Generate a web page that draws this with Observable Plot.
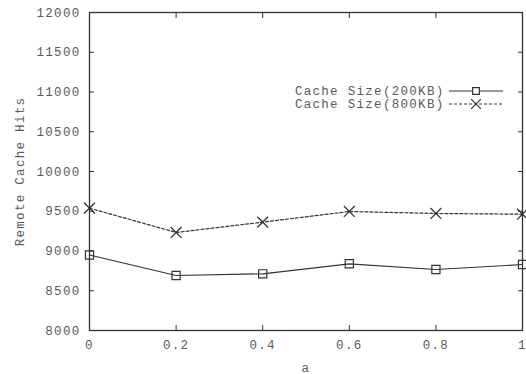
<!DOCTYPE html>
<html><head><meta charset="utf-8">
<script src="https://cdn.jsdelivr.net/npm/d3@7"></script>
<script src="https://cdn.jsdelivr.net/npm/@observablehq/plot@0.6"></script>
<style>
body{margin:0;background:#fff;}
#wrap{position:relative;width:526px;height:374px;}
#legend{position:absolute;left:0;top:0;}
text{font-family:"Liberation Mono",monospace;letter-spacing:1.3px;}
</style></head>
<body><div id="wrap"></div>
<script>
const aValues = [0, 0.2, 0.4, 0.6, 0.8, 1.0];
const hits200 = [8950, 8692, 8713, 8839, 8767, 8830];
const hits800 = [9539, 9233, 9363, 9497, 9472, 9463];
const seriesNames = ["Cache Size(200KB)", "Cache Size(800KB)"];
const yTicks = [8000, 8500, 9000, 9500, 10000, 10500, 11000, 11500, 12000];
const xTicks = [0, 0.2, 0.4, 0.6, 0.8, 1];

const s200 = aValues.map((a, i) => ({a, v: hits200[i]}));
const s800 = aValues.map((a, i) => ({a, v: hits800[i]}));
const ink = "#333";
const textCol = "#5a5a5a";
const fs = "12.5px";

const chart = Plot.plot({
  width: 526, height: 374,
  marginLeft: 89, marginRight: 4, marginTop: 12, marginBottom: 44,
  style: {fontFamily: "'Liberation Mono', monospace", fontSize: fs, color: textCol, background: "#fff"},
  x: {domain: [0, 1]},
  y: {domain: [8000, 12000]},
  marks: [
    Plot.frame({stroke: ink, strokeWidth: 1.3}),
    Plot.axisX(xTicks, {anchor: "bottom", tickSize: 0, tickPadding: 10, tickFormat: d => String(d), label: "a", labelAnchor: "center", labelOffset: 41, labelArrow: "none", fill: textCol}),
    Plot.axisX(xTicks, {anchor: "bottom", tickSize: -5, text: null, label: null, stroke: ink}),
    Plot.axisX(xTicks, {anchor: "top", tickSize: -5, text: null, label: null, stroke: ink}),
    Plot.axisY(yTicks, {anchor: "left", tickSize: 0, tickPadding: 9, tickFormat: d => String(d), label: "Remote Cache Hits", labelAnchor: "center", labelOffset: 74, labelArrow: "none", fill: textCol}),
    Plot.axisY(yTicks, {anchor: "left", tickSize: -5, text: null, label: null, stroke: ink}),
    Plot.axisY(yTicks, {anchor: "right", tickSize: -5, text: null, label: null, stroke: ink}),
    Plot.line(s200, {x: "a", y: "v", stroke: ink, strokeWidth: 1.2}),
    Plot.dot(s200, {x: "a", y: "v", symbol: "square", r: 4.6, stroke: ink, strokeWidth: 1.2, fill: "none"}),
    Plot.line(s800, {x: "a", y: "v", stroke: ink, strokeWidth: 1.2, strokeDasharray: "3,2"}),
    Plot.dot(s800, {x: "a", y: "v", symbol: "times", r: 5, stroke: ink, strokeWidth: 1.3})
  ]
});
document.getElementById("wrap").appendChild(chart);

// legend overlay
const ns = "http://www.w3.org/2000/svg";
const lg = document.createElementNS(ns, "svg");
lg.setAttribute("id", "legend");
lg.setAttribute("width", 526); lg.setAttribute("height", 374);
const rows = [{y: 91, dash: null, sym: "square"}, {y: 104, dash: "3,2", sym: "times"}];
rows.forEach((r, i) => {
  const t = document.createElementNS(ns, "text");
  t.setAttribute("x", 444.5); t.setAttribute("y", r.y); t.setAttribute("dy", "0.35em");
  t.setAttribute("text-anchor", "end"); t.setAttribute("fill", textCol);
  t.setAttribute("font-size", fs);
  t.textContent = seriesNames[i];
  lg.appendChild(t);
  const l = document.createElementNS(ns, "line");
  l.setAttribute("x1", 449); l.setAttribute("x2", 503); l.setAttribute("y1", r.y); l.setAttribute("y2", r.y);
  l.setAttribute("stroke", ink); l.setAttribute("stroke-width", 1.2);
  if (r.dash) l.setAttribute("stroke-dasharray", r.dash);
  lg.appendChild(l);
  const p = document.createElementNS(ns, "path");
  p.setAttribute("d", d3.symbol(r.sym === "square" ? d3.symbolSquare : d3.symbolTimes, r.sym === "square" ? Math.PI * 3.8 * 3.8 : Math.PI * 20)());
  p.setAttribute("transform", `translate(476,${r.y})`);
  p.setAttribute("stroke", ink); p.setAttribute("stroke-width", 1.2); p.setAttribute("fill", r.sym === "square" ? "#fff" : "none");
  lg.appendChild(p);
});
document.getElementById("wrap").appendChild(lg);
</script></body></html>
